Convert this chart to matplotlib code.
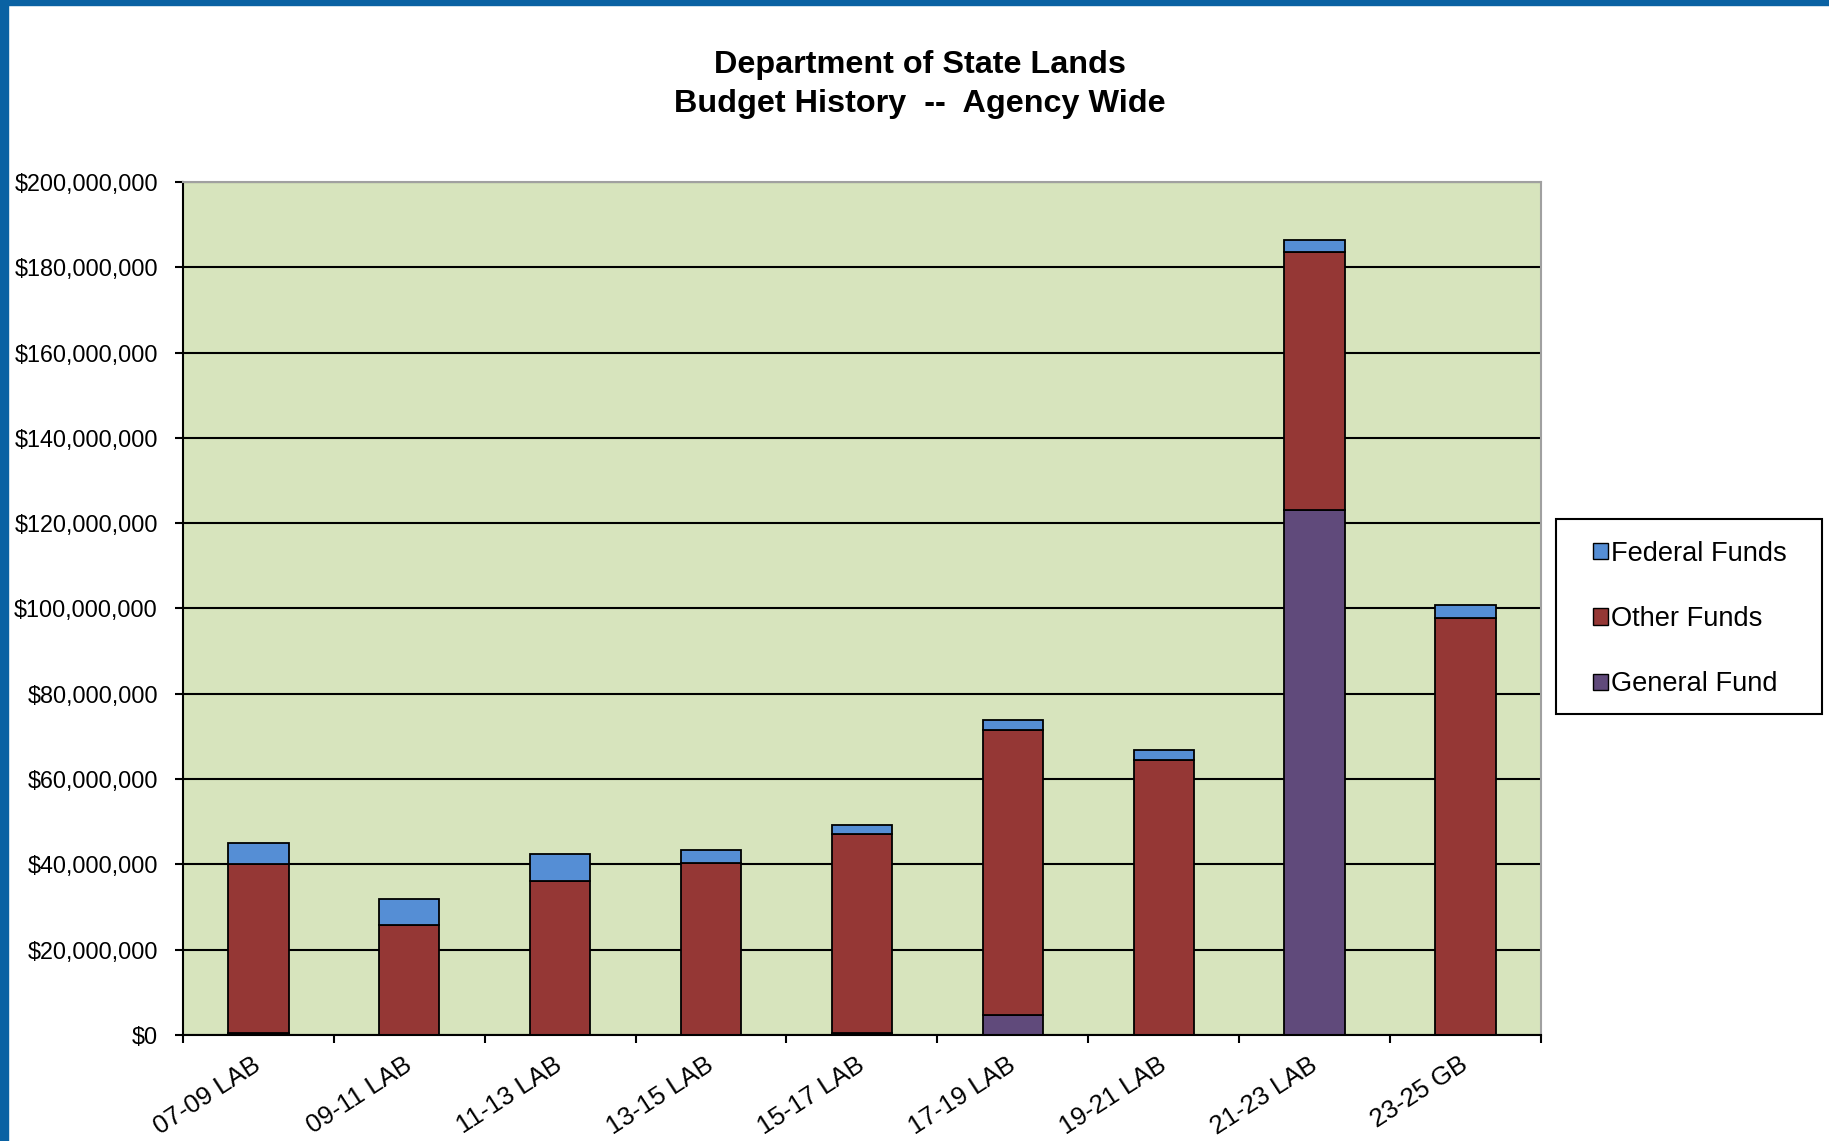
import numpy as np
import matplotlib
matplotlib.use("Agg")
import matplotlib.pyplot as plt
from matplotlib.patches import Rectangle, Patch
from matplotlib.ticker import FuncFormatter, MultipleLocator

# budget history, dollars
periods = ["07-09 LAB", "09-11 LAB", "11-13 LAB", "13-15 LAB", "15-17 LAB",
           "17-19 LAB", "19-21 LAB", "21-23 LAB", "23-25 GB"]
general_fund = [0.4e6, 0, 0, 0, 0.4e6, 4.7e6, 0, 123.0e6, 0]
other_funds = [39.7e6, 25.7e6, 36.2e6, 40.4e6, 46.7e6, 66.8e6, 64.5e6, 60.6e6, 97.8e6]
federal_funds = [4.9e6, 6.2e6, 6.1e6, 3.0e6, 2.2e6, 2.4e6, 2.4e6, 2.7e6, 2.9e6]

c_general = "#604A7B"
c_other = "#953735"
c_federal = "#558ED5"
c_bg = "#D7E4BD"

plt.rcParams["font.family"] = ["Liberation Sans", "DejaVu Sans"]

fig = plt.figure(figsize=(18.29, 11.41), dpi=100)

# blue frame along top and left edge
fig.patches.append(Rectangle((0, 1 - 5 / 1141), 1, 5 / 1141, transform=fig.transFigure,
                             color="#0A62A3", zorder=0))
fig.patches.append(Rectangle((0, 0), 8 / 1829, 1, transform=fig.transFigure,
                             color="#0A62A3", zorder=0))

ax = fig.add_axes([0.100, 0.093, 0.7425, 0.7475])
ax.set_facecolor(c_bg)

x = np.arange(len(periods))
w = 0.4
g = np.array(general_fund)
o = np.array(other_funds)
f = np.array(federal_funds)

ax.bar(x, g, w, color=c_general, edgecolor="black", linewidth=1.3)
ax.bar(x, o, w, bottom=g, color=c_other, edgecolor="black", linewidth=1.3)
ax.bar(x, f, w, bottom=g + o, color=c_federal, edgecolor="black", linewidth=1.3)

ax.set_xlim(-0.5, len(periods) - 0.5)
ax.set_ylim(0, 200e6)
ax.yaxis.set_major_locator(MultipleLocator(20e6))
ax.yaxis.set_major_formatter(FuncFormatter(lambda v, p: f"${v:,.0f}"))
ax.grid(axis="y", color="black", linewidth=1.5)
ax.set_axisbelow(True)

ax.set_xticks(x)
ax.set_xticklabels(periods, rotation=33, ha="right", va="center",
                   rotation_mode="anchor", fontsize=18.5)
ax.set_xticks(np.arange(-0.5, len(periods)), minor=True)
ax.tick_params(axis="x", which="major", length=0, pad=20)
ax.tick_params(axis="x", which="minor", length=6, width=1.5, direction="out")
ax.tick_params(axis="y", length=6, width=1.5, labelsize=16.8, pad=12)

for s in ["left", "bottom"]:
    ax.spines[s].set_color("black")
    ax.spines[s].set_linewidth(1.5)
for s in ["top", "right"]:
    ax.spines[s].set_color("#A0A0A0")
    ax.spines[s].set_linewidth(1.5)

fig.text(0.503, 0.943, "Department of State Lands", ha="center", va="center",
         fontsize=23.3, fontweight="bold")
fig.text(0.503, 0.909, "Budget History  --  Agency Wide", ha="center", va="center",
         fontsize=23.3, fontweight="bold")

# legend box
fig.patches.append(Rectangle((0.851, 0.374), 0.145, 0.171, transform=fig.transFigure,
                             facecolor="white", edgecolor="black", linewidth=1.5, zorder=1))
handles = [Patch(facecolor=c_federal, edgecolor="black", label="Federal Funds"),
           Patch(facecolor=c_other, edgecolor="black", label="Other Funds"),
           Patch(facecolor=c_general, edgecolor="black", label="General Fund")]
leg = fig.legend(handles=handles, loc="center left", bbox_to_anchor=(0.871, 0.4575),
                 frameon=False, fontsize=19.6, handlelength=0.55, handleheight=0.55,
                 handletextpad=0.1, labelspacing=1.45, borderpad=0, borderaxespad=0)

plt.savefig("out.png", dpi=100)
